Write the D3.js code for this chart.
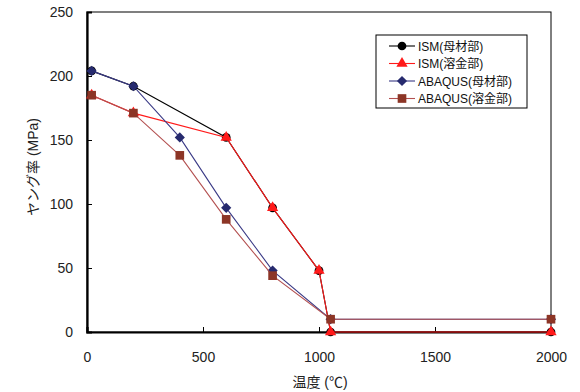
<!DOCTYPE html>
<html>
<head>
<meta charset="utf-8">
<script src="https://cdn.jsdelivr.net/npm/d3@7"></script>
<style>
  body { margin: 0; background: #fff; }
  text { font-family: "Liberation Sans", Arial, "Noto Sans CJK JP", sans-serif; }
</style>
</head>
<body>
<div id="chart"></div>
<script>
// temperatures (°C) and Young's modulus per series
var ismBaseTemp = [20, 200, 600, 800, 1000, 1050, 2000];
var ismBaseVal  = [204, 192, 152, 97, 48, 0, 0];
var ismWeldTemp = [20, 200, 600, 800, 1000, 1050, 2000];
var ismWeldVal  = [185, 171, 152, 97, 48, 0, 0];
var abqBaseTemp = [20, 200, 400, 600, 800, 1050, 2000];
var abqBaseVal  = [204, 192, 152, 97, 48, 10, 10];
var abqWeldTemp = [20, 200, 400, 600, 800, 1050, 2000];
var abqWeldVal  = [185, 171, 138, 88, 44, 10, 10];
var seriesNames = ["ISM(母材部)", "ISM(溶金部)", "ABAQUS(母材部)", "ABAQUS(溶金部)"];
var xTicks = [0, 500, 1000, 1500, 2000];
var yTicks = [0, 50, 100, 150, 200, 250];

function draw_chart(divName) {
  var margin = {top: 12, right: 29, bottom: 60, left: 87},
      width = 580 - margin.left - margin.right,
      height = 392 - margin.top - margin.bottom;

  var svg = d3.select("#" + divName)
    .append("svg")
      .attr("width", 580)
      .attr("height", 392);
  var g = svg.append("g")
      .attr("transform", "translate(" + margin.left + "," + margin.top + ")");

  var x = d3.scaleLinear().domain([0, 2000]).range([0, width]);
  var y = d3.scaleLinear().domain([0, 250]).range([height, 0]);

  // frame
  g.append("rect")
    .attr("width", width).attr("height", height)
    .attr("fill", "none").attr("stroke", "#000").attr("stroke-width", 1);

  // x axis, ticks inside
  var xa = g.append("g")
    .attr("transform", "translate(0," + height + ")")
    .call(d3.axisBottom(x).tickValues(xTicks).tickSize(-5).tickPadding(20).tickFormat(d3.format("d")));
  xa.selectAll("text").style("font-size", "14px").attr("fill", "#222");
  xa.select(".domain").attr("stroke-width", 2.2);

  // y axis, ticks inside
  var ya = g.append("g")
    .call(d3.axisLeft(y).tickValues(yTicks).tickSize(-5).tickPadding(14));
  ya.selectAll("text").style("font-size", "14px").attr("fill", "#222");
  ya.select(".domain").attr("stroke-width", 2.2);
  ya.selectAll(".tick").filter(function(d){ return d == 0 || d == 250; }).select("line").remove();

  // axis titles
  svg.append("text")
    .attr("x", margin.left + x(1000) + 1).attr("y", 387)
    .attr("text-anchor", "middle").style("font-size", "14px").attr("fill", "#222")
    .text("温度 (℃)");
  svg.append("text")
    .attr("transform", "translate(38," + 167 + ") rotate(-90)")
    .attr("text-anchor", "middle").style("font-size", "14px").attr("fill", "#222")
    .text("ヤング率 (MPa)");

  var series = [
    {name: seriesNames[0], t: ismBaseTemp, v: ismBaseVal, line: "#000000", fill: "#000000", sym: d3.symbolCircle, size: 60, rot: 0},
    {name: seriesNames[1], t: ismWeldTemp, v: ismWeldVal, line: "#ff1a1a", fill: "#ff1a1a", sym: d3.symbolTriangle, size: 55, rot: 0},
    {name: seriesNames[2], t: abqBaseTemp, v: abqBaseVal, line: "#3a3a86", fill: "#262a6e", sym: d3.symbolSquare, size: 52, rot: 45},
    {name: seriesNames[3], t: abqWeldTemp, v: abqWeldVal, line: "#b35050", fill: "#8c3526", sym: d3.symbolSquare, size: 75, rot: 0}
  ];

  var line = d3.line()
    .x(function(d){ return x(d[0]); })
    .y(function(d){ return y(d[1]); });

  series.forEach(function(s) {
    var pts = s.t.map(function(t, i){ return [t, s.v[i]]; });
    g.append("path")
      .datum(pts)
      .attr("fill", "none")
      .attr("stroke", s.line)
      .attr("stroke-width", 1.1)
      .attr("d", line);
    g.selectAll(null)
      .data(pts)
      .enter()
      .append("path")
        .attr("transform", function(d){ return "translate(" + x(d[0]) + "," + y(d[1]) + ") rotate(" + s.rot + ")"; })
        .attr("d", d3.symbol().type(s.sym).size(s.size))
        .attr("fill", s.fill);
  });

  // legend
  var lg = svg.append("g").attr("transform", "translate(376,35)");
  lg.append("rect")
    .attr("width", 151).attr("height", 73)
    .attr("fill", "#fff").attr("stroke", "#000").attr("stroke-width", 1);
  series.forEach(function(s, i) {
    var yy = 11 + i * 17.5;
    lg.append("line")
      .attr("x1", 13).attr("x2", 39).attr("y1", yy).attr("y2", yy)
      .attr("stroke", s.line).attr("stroke-width", 1.1);
    lg.append("path")
      .attr("transform", "translate(26," + yy + ") rotate(" + s.rot + ")")
      .attr("d", d3.symbol().type(s.sym).size(s.size))
      .attr("fill", s.fill);
    lg.append("text")
      .attr("x", 42).attr("y", yy + 4.5)
      .style("font-size", "12px").attr("fill", "#111")
      .text(s.name);
  });
}

draw_chart("chart");
</script>
</body>
</html>
